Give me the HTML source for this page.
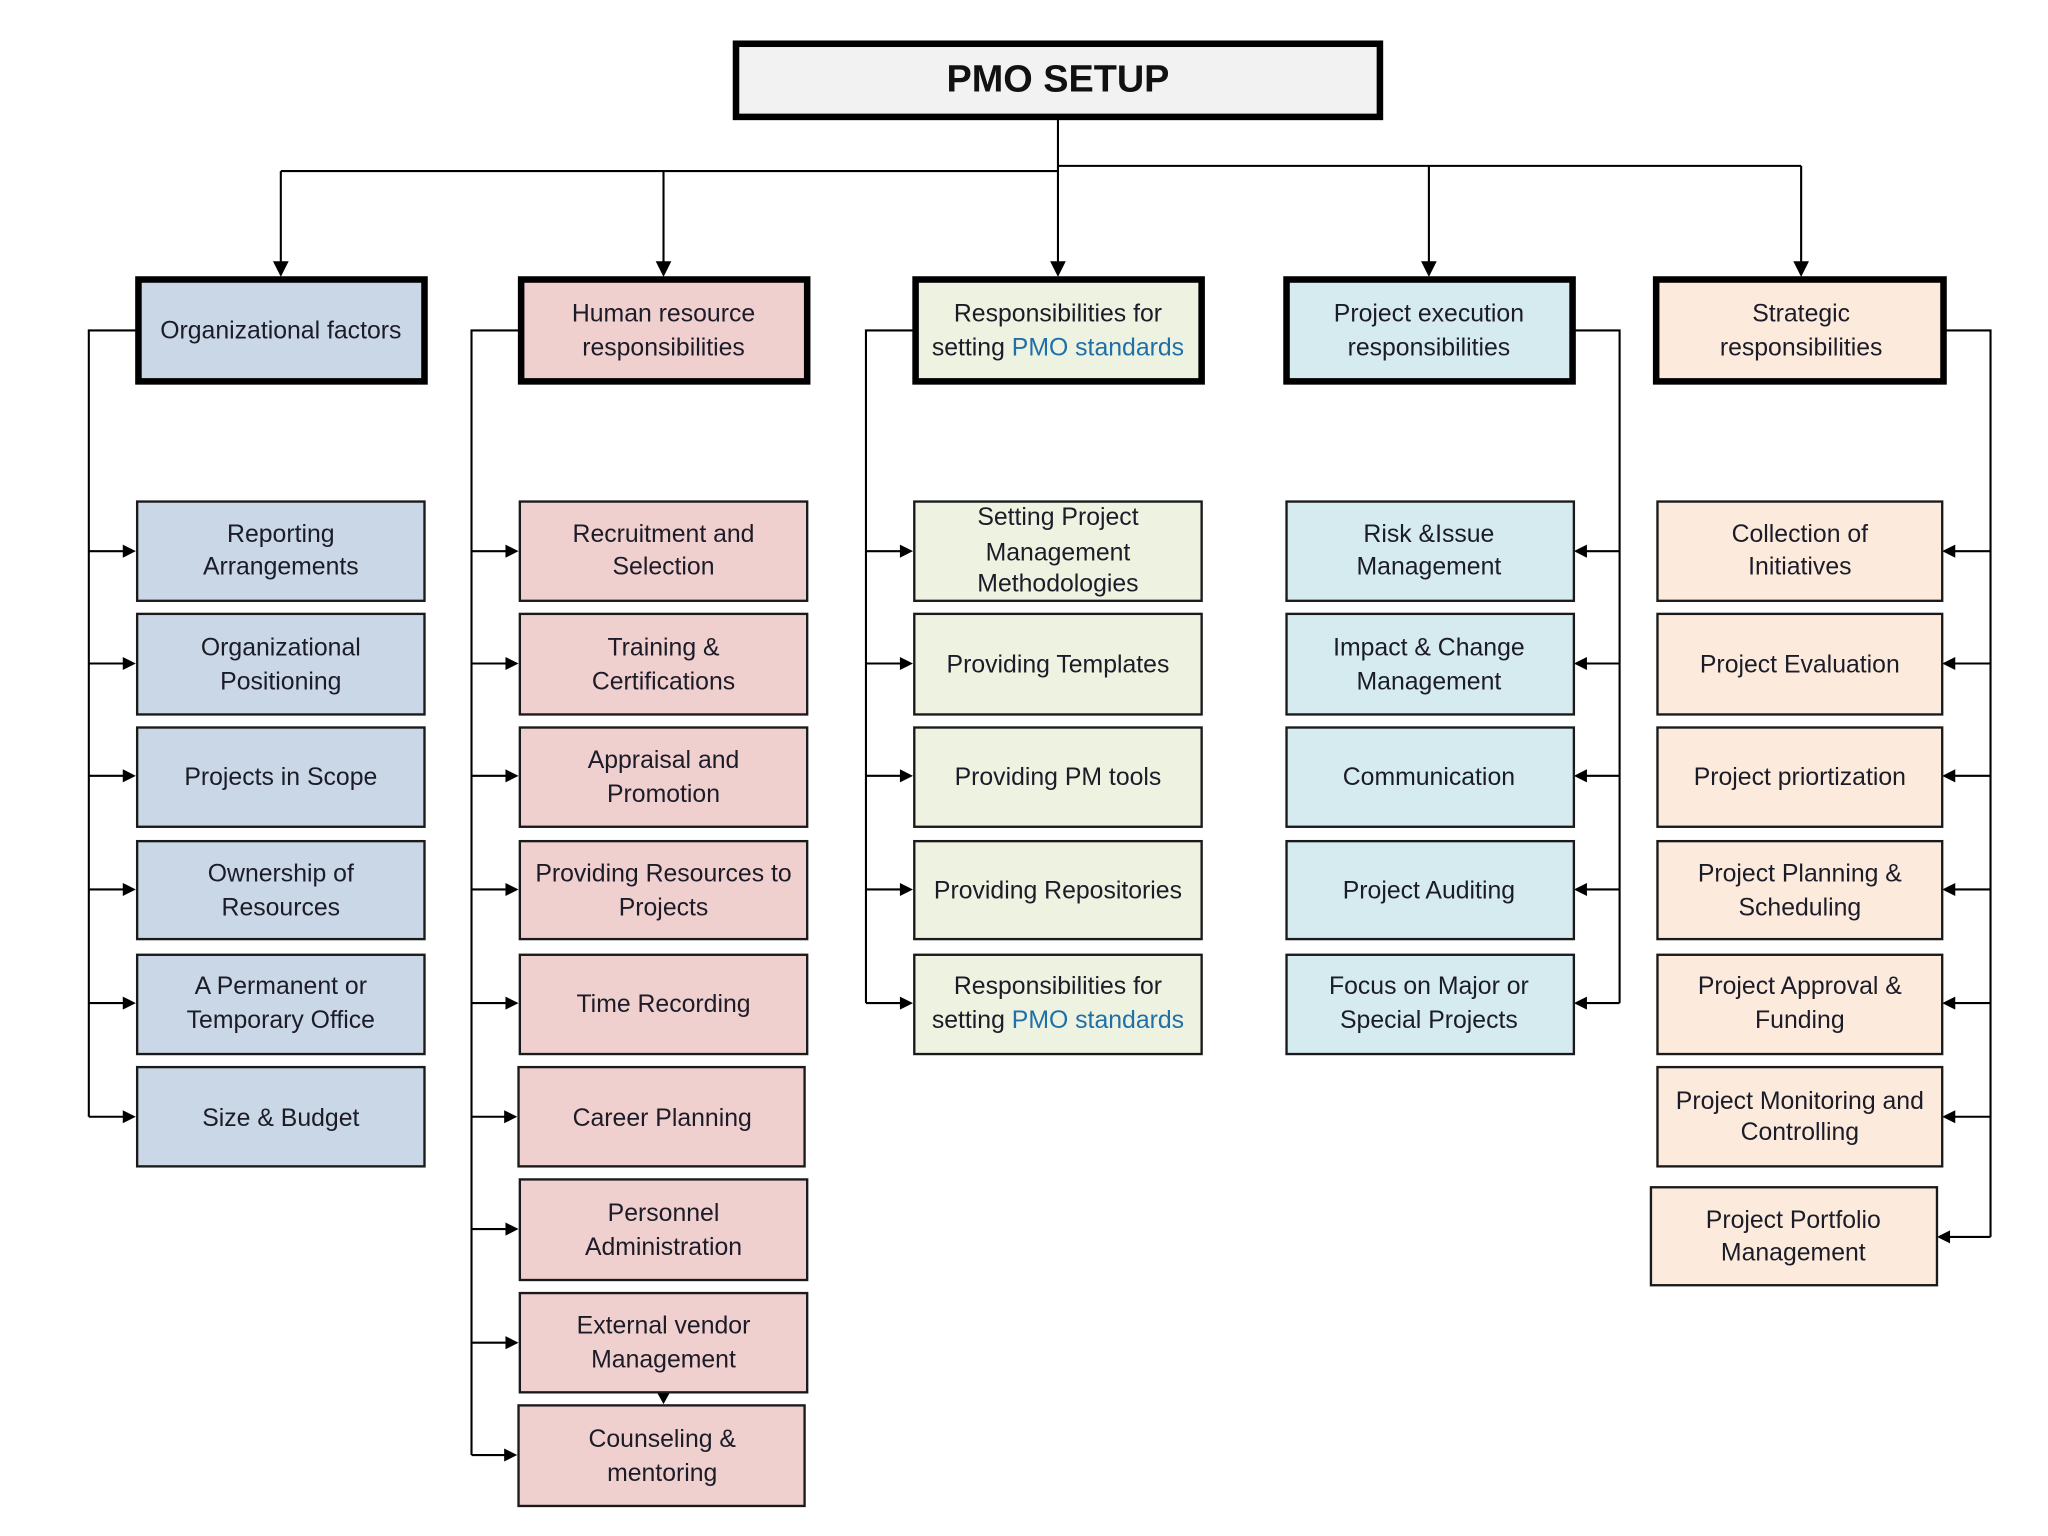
<!DOCTYPE html>
<html><head><meta charset="utf-8"><style>
html,body{margin:0;padding:0;background:#fff;}
svg{display:block;}
text{font-family:"Liberation Sans",sans-serif;font-size:19px;fill:#1c1c28;text-anchor:middle;}
.b{fill:#1f6fa8;}
</style></head><body>
<svg width="2048" height="1536" viewBox="0 0 1568 1176" xmlns="http://www.w3.org/2000/svg">
<defs>
<marker id="ad" markerWidth="10" markerHeight="10" refX="9" refY="5" orient="auto" markerUnits="userSpaceOnUse"><path d="M0,0 L10,5 L0,10 z" fill="#000"/></marker>
</defs>
<rect width="1568" height="1176" fill="#fff"/>
<!-- root -->
<rect x="563.5" y="33.5" width="493" height="56" fill="#f2f2f2" stroke="#000" stroke-width="5"/>
<text x="810" y="70" style="font-size:29px;font-weight:bold;fill:#111">PMO SETUP</text>
<g stroke="#000" stroke-width="1.6" fill="none">
<path d="M810,91 V210"/>
<path d="M215,131 H810 M810,127 H1379"/>
<path d="M215,131 V210 M508,131 V210 M1094,127 V210 M1379,127 V210"/>
</g>
<g fill="#000">
<path d="M209,200 L221,200 L215,212 z"/><path d="M502,200 L514,200 L508,212 z"/><path d="M804,200 L816,200 L810,212 z"/><path d="M1088,200 L1100,200 L1094,212 z"/><path d="M1373,200 L1385,200 L1379,212 z"/>
</g>
<!-- headers -->
<g stroke="#000" stroke-width="5">
<rect x="106" y="214" width="219" height="78" fill="#c9d7e6"/>
<rect x="399" y="214" width="219" height="78" fill="#f0cfcf"/>
<rect x="701" y="214" width="219" height="78" fill="#eef3e1"/>
<rect x="985" y="214" width="219" height="78" fill="#d5ebf0"/>
<rect x="1268" y="214" width="220" height="78" fill="#fcebdc"/>
</g>
<text x="215" y="259">Organizational factors</text>
<text x="508" y="246">Human resource</text><text x="508" y="272">responsibilities</text>
<text x="810" y="246">Responsibilities for</text><text x="810" y="272">setting <tspan class="b">PMO standards</tspan></text>
<text x="1094" y="246">Project execution</text><text x="1094" y="272">responsibilities</text>
<text x="1379" y="246">Strategic</text><text x="1379" y="272">responsibilities</text>
<!-- buses -->
<g stroke="#000" stroke-width="1.6" fill="none">
<path d="M104,253 H68 V855"/>
<path d="M397,253 H361 V1114"/>
<path d="M699,253 H663 V768"/>
<path d="M1206,253 H1240 V768"/>
<path d="M1490,253 H1524 V947"/>
<path d="M68,422 H100 M68,508 H100 M68,594 H100 M68,681 H100 M68,768 H100 M68,855 H100"/>
<path d="M361,422 H393 M361,508 H393 M361,594 H393 M361,681 H393 M361,768 H393 M361,855 H392 M361,941 H393 M361,1028 H393 M361,1114 H392"/>
<path d="M663,422 H695 M663,508 H695 M663,594 H695 M663,681 H695 M663,768 H695"/>
<path d="M1240,422 H1209 M1240,508 H1209 M1240,594 H1209 M1240,681 H1209 M1240,768 H1209"/>
<path d="M1524,422 H1491 M1524,508 H1491 M1524,594 H1491 M1524,681 H1491 M1524,768 H1491 M1524,855 H1491 M1524,947 H1487"/>
</g>
<g fill="#000">
<path d="M94,417 L104,422 L94,427z M94,503 L104,508 L94,513z M94,589 L104,594 L94,599z M94,676 L104,681 L94,686z M94,763 L104,768 L94,773z M94,850 L104,855 L94,860z"/>
<path d="M387,417 L397,422 L387,427z M387,503 L397,508 L387,513z M387,589 L397,594 L387,599z M387,676 L397,681 L387,686z M387,763 L397,768 L387,773z M386,850 L396,855 L386,860z M387,936 L397,941 L387,946z M387,1023 L397,1028 L387,1033z M386,1109 L396,1114 L386,1119z"/>
<path d="M689,417 L699,422 L689,427z M689,503 L699,508 L689,513z M689,589 L699,594 L689,599z M689,676 L699,681 L689,686z M689,763 L699,768 L689,773z"/>
<path d="M1215,417 L1205,422 L1215,427z M1215,503 L1205,508 L1215,513z M1215,589 L1205,594 L1215,599z M1215,676 L1205,681 L1215,686z M1215,763 L1205,768 L1215,773z"/>
<path d="M1497,417 L1487,422 L1497,427z M1497,503 L1487,508 L1497,513z M1497,589 L1487,594 L1497,599z M1497,676 L1487,681 L1497,686z M1497,763 L1487,768 L1497,773z M1497,850 L1487,855 L1497,860z M1493,942 L1483,947 L1493,952z"/>
<path d="M503,1066 L513,1066 L508,1075z"/>
</g>
<!-- children -->
<g stroke="#1a1a1a" stroke-width="1.8">
<g fill="#c9d7e6">
<rect x="105" y="384" width="220" height="76"/><rect x="105" y="470" width="220" height="77"/><rect x="105" y="557" width="220" height="76"/><rect x="105" y="644" width="220" height="75"/><rect x="105" y="731" width="220" height="76"/><rect x="105" y="817" width="220" height="76"/>
</g>
<g fill="#f0cfcf">
<rect x="398" y="384" width="220" height="76"/><rect x="398" y="470" width="220" height="77"/><rect x="398" y="557" width="220" height="76"/><rect x="398" y="644" width="220" height="75"/><rect x="398" y="731" width="220" height="76"/><rect x="397" y="817" width="219" height="76"/><rect x="398" y="903" width="220" height="77"/><rect x="398" y="990" width="220" height="76"/><rect x="397" y="1076" width="219" height="77"/>
</g>
<g fill="#eef3e1">
<rect x="700" y="384" width="220" height="76"/><rect x="700" y="470" width="220" height="77"/><rect x="700" y="557" width="220" height="76"/><rect x="700" y="644" width="220" height="75"/><rect x="700" y="731" width="220" height="76"/>
</g>
<g fill="#d5ebf0">
<rect x="985" y="384" width="220" height="76"/><rect x="985" y="470" width="220" height="77"/><rect x="985" y="557" width="220" height="76"/><rect x="985" y="644" width="220" height="75"/><rect x="985" y="731" width="220" height="76"/>
</g>
<g fill="#fcebdc">
<rect x="1269" y="384" width="218" height="76"/><rect x="1269" y="470" width="218" height="77"/><rect x="1269" y="557" width="218" height="76"/><rect x="1269" y="644" width="218" height="75"/><rect x="1269" y="731" width="218" height="76"/><rect x="1269" y="817" width="218" height="76"/><rect x="1264" y="909" width="219" height="75"/>
</g>
</g>
<!-- col1 text -->
<text x="215" y="415">Reporting</text><text x="215" y="440">Arrangements</text>
<text x="215" y="502">Organizational</text><text x="215" y="528">Positioning</text>
<text x="215" y="601">Projects in Scope</text>
<text x="215" y="675">Ownership of</text><text x="215" y="701">Resources</text>
<text x="215" y="761">A Permanent or</text><text x="215" y="787">Temporary Office</text>
<text x="215" y="862">Size &amp; Budget</text>
<!-- col2 -->
<text x="508" y="415">Recruitment and</text><text x="508" y="440">Selection</text>
<text x="508" y="502">Training &amp;</text><text x="508" y="528">Certifications</text>
<text x="508" y="588">Appraisal and</text><text x="508" y="614">Promotion</text>
<text x="508" y="675">Providing Resources to</text><text x="508" y="701">Projects</text>
<text x="508" y="775">Time Recording</text>
<text x="507" y="862">Career Planning</text>
<text x="508" y="935">Personnel</text><text x="508" y="961">Administration</text>
<text x="508" y="1021">External vendor</text><text x="508" y="1047">Management</text>
<text x="507" y="1108">Counseling &amp;</text><text x="507" y="1134">mentoring</text>
<!-- col3 -->
<text x="810" y="402">Setting Project</text><text x="810" y="429">Management</text><text x="810" y="453">Methodologies</text>
<text x="810" y="515">Providing Templates</text>
<text x="810" y="601">Providing PM tools</text>
<text x="810" y="688">Providing Repositories</text>
<text x="810" y="761">Responsibilities for</text><text x="810" y="787">setting <tspan class="b">PMO standards</tspan></text>
<!-- col4 -->
<text x="1094" y="415">Risk &amp;Issue</text><text x="1094" y="440">Management</text>
<text x="1094" y="502">Impact &amp; Change</text><text x="1094" y="528">Management</text>
<text x="1094" y="601">Communication</text>
<text x="1094" y="688">Project Auditing</text>
<text x="1094" y="761">Focus on Major or</text><text x="1094" y="787">Special Projects</text>
<!-- col5 -->
<text x="1378" y="415">Collection of</text><text x="1378" y="440">Initiatives</text>
<text x="1378" y="515">Project Evaluation</text>
<text x="1378" y="601">Project priortization</text>
<text x="1378" y="675">Project Planning &amp;</text><text x="1378" y="701">Scheduling</text>
<text x="1378" y="761">Project Approval &amp;</text><text x="1378" y="787">Funding</text>
<text x="1378" y="849">Project Monitoring and</text><text x="1378" y="873">Controlling</text>
<text x="1373" y="940">Project Portfolio</text><text x="1373" y="965">Management</text>
</svg>
</body></html>
